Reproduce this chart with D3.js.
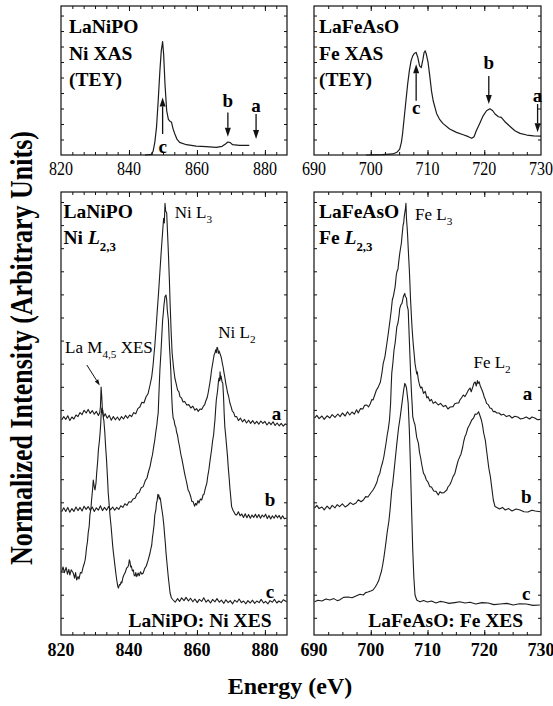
<!DOCTYPE html>
<html><head><meta charset="utf-8">
<script src="https://cdn.jsdelivr.net/npm/d3@7"></script>
<style>
body{margin:0;background:#fff}
svg{display:block}
text{font-family:"Liberation Serif","Times New Roman",Times,serif;fill:#000}
</style>
</head><body>
<svg id="chart" width="553" height="706"></svg>
<script>
// ---------------- DATA ----------------
// Top-left: LaNiPO Ni XAS (TEY)  [energy eV, intensity]
const niXAS = [[844.7,0],[846.6,0.4],[847.1,2.5],[847.6,8.5],[848.1,18.5],[848.6,36.4],[849.1,56.5],[849.5,69.9],[849.9,76.1],[850.2,67.6],[850.6,47.5],[851.1,29.7],[851.6,23.9],[852.1,22.5],[852.5,22.1],[853.0,17.4],[853.5,14.1],[854.1,10.7],[854.9,8.5],[856.9,6.9],[859.8,6.0],[862.7,5.6],[865.7,5.1],[867.4,5.8],[868.4,7.4],[869.1,8.7],[869.8,8.3],[870.5,6.9],[872.5,6.5],[875.4,6.5]];
// Top-right: LaFeAsO Fe XAS (TEY)
const feXAS = [[699.2,0],[702.1,0.2],[703.9,0.7],[704.6,1.8],[705.1,4.0],[705.4,8.5],[705.6,14.1],[705.9,25.2],[706.2,36.4],[706.5,47.5],[706.8,56.5],[707.1,63.2],[707.4,66.5],[707.7,68.3],[708.0,68.8],[708.3,65.4],[708.6,59.8],[708.9,58.7],[709.2,64.3],[709.4,68.8],[709.6,69.9],[709.8,67.6],[710.1,62.1],[710.4,53.1],[710.7,43.1],[711.0,36.4],[711.6,27.9],[712.1,24.1],[712.7,21.2],[713.9,17.4],[715.1,15.2],[716.3,13.6],[717.2,12.3],[717.8,11.2],[718.2,12.3],[718.6,16.3],[719.2,21.2],[719.8,26.3],[720.4,29.7],[721.0,31.0],[721.5,29.7],[721.9,27.5],[722.5,25.7],[723.0,25.2],[723.6,22.5],[724.6,19.0],[725.4,16.3],[726.3,14.5],[727.5,13.4],[728.7,12.9],[730.0,12.7]];

// Bottom-left: LaNiPO Ni XES, excitations a, b, c (offset stacked)
const niXES_a = [[820.2,53.75],[820.8,54.6],[821.4,53.9],[822.0,54.8],[822.6,53.6],[823.2,54.5],[823.8,54.0],[824.4,55.0],[825.0,54.6],[825.6,55.6],[826.2,55.1],[826.8,56.2],[827.4,55.5],[828.0,56.4],[828.6,55.4],[829.2,56.1],[829.8,55.2],[830.4,55.9],[831.0,54.9],[831.4,55.6],[831.6,57],[831.8,62],[832.0,59.5],[832.2,56],[832.5,54.5],[833.0,55.3],[833.6,54.2],[834.2,54.9],[834.8,53.7],[835.4,54.6],[836.0,53.8],[836.6,54.5],[837.2,53.7],[837.8,54.6],[838.4,54.0],[839.0,54.9],[839.6,54.2],[840.2,55.0],[840.8,54.6],[841.4,55.6],[842.0,55.3],[842.6,56.6],[843.2,57.0],[843.8,58.2],[844.4,58.0],[845.0,59.5],[845.6,60.3],[846.2,62.5],[846.7,64.6],[847.1,67.5],[847.4,70.5],[847.6,72.3],[848.0,77.0],[848.3,80.75],[848.7,85.5],[849.1,90.75],[849.5,96.0],[849.9,100.75],[850.2,104.2],[850.4,103.0],[850.6,107.9],[850.8,106.0],[851.1,105.5],[851.4,99.5],[851.6,95.5],[851.9,88.5],[852.1,83],[852.4,76.0],[852.7,70.5],[853.1,67.0],[853.5,64.25],[853.9,62.8],[854.3,61.25],[854.7,60.8],[855.0,59.6],[855.5,59.2],[855.9,58.25],[856.4,58.4],[857.0,57.5],[857.6,57.6],[858.2,56.75],[858.8,57.2],[859.4,56.2],[859.9,56.6],[860.4,55.9],[860.9,56.5],[861.4,56.4],[861.9,57.2],[862.3,57.6],[862.6,58.5],[863.0,59.3],[863.3,60.5],[863.6,62.0],[863.8,63],[864.1,64.8],[864.3,66.25],[864.6,67.7],[864.9,69.25],[865.1,70.2],[865.3,70.5],[865.5,71.3],[865.7,70.6],[865.9,71.9],[866.1,71.7],[866.3,70.4],[866.5,71.0],[866.8,70.3],[867.0,69.8],[867.2,69.25],[867.5,67.8],[867.7,67],[868.0,65.4],[868.2,64.5],[868.5,62.8],[868.7,62],[869.0,60.6],[869.3,59.75],[869.7,58],[870.0,57.2],[870.4,56],[870.8,55.6],[871.2,54.6],[871.7,54.6],[872.2,53.6],[872.8,54.2],[873.4,53.3],[874.0,53.9],[874.6,53.0],[875.2,53.7],[875.8,52.9],[876.4,53.6],[877.0,52.8],[877.6,53.4],[878.2,52.7],[878.8,53.5],[879.4,52.9],[880.0,53.4],[880.6,52.5],[881.2,53.2],[881.8,52.6],[882.4,53.3],[883.0,52.4],[883.6,53.0],[884.2,52.3],[884.8,52.9],[885.4,52.2],[886.0,52.8],[886.4,52.5]];
const niXES_b = [[820.2,30.8],[820.8,31.8],[821.4,30.9],[822.0,31.9],[822.6,30.7],[823.2,31.6],[823.8,30.9],[824.4,32.0],[825.0,31.1],[825.6,31.9],[826.2,31.0],[826.8,32.2],[827.4,31.4],[828.0,32.1],[828.6,31.2],[829.2,32.0],[829.8,30.9],[830.4,31.8],[831.0,31.2],[831.6,32.3],[832.2,31.1],[832.8,31.9],[833.4,31.2],[834.0,32.1],[834.6,31.3],[835.2,32.0],[835.8,31.2],[836.4,31.9],[837.0,31.4],[837.6,32.3],[838.2,31.9],[838.8,32.8],[839.4,32.4],[840.0,33.3],[840.6,33.2],[841.2,34.0],[841.8,34.2],[842.4,35.3],[843.0,35.6],[843.6,36.8],[844.2,37.1],[844.8,38.6],[845.3,39.25],[845.8,41.0],[846.2,42.1],[846.6,43.9],[846.9,45],[847.3,47.2],[847.6,48.75],[847.9,50.8],[848.2,52.5],[848.4,54.2],[848.6,55.5],[848.8,60],[849.1,66.25],[849.4,70.5],[849.6,73.75],[849.9,78.75],[850.1,80.4],[850.3,82.5],[850.6,84.6],[850.9,85],[851.1,83.75],[851.3,81.0],[851.6,78.75],[851.9,72.5],[852.1,69.5],[852.3,66.25],[852.6,59.25],[852.8,56.0],[853.0,54.25],[853.3,53.6],[853.5,52.5],[853.8,51.9],[854.0,50.75],[854.3,49.9],[854.5,48.75],[854.9,47.0],[855.3,45],[855.6,43.9],[856.0,42.1],[856.4,40.3],[856.8,38.75],[857.1,37.6],[857.4,36.25],[857.8,35.6],[858.2,34.5],[858.5,33.4],[858.9,33.3],[859.3,32.2],[859.6,32.9],[859.9,32.5],[860.3,33.6],[860.6,33],[861.0,34.0],[861.4,33.75],[861.8,35.0],[862.1,35.25],[862.5,36.8],[862.9,37.9],[863.2,39.8],[863.5,41.25],[863.9,43.9],[864.3,46.25],[864.6,48.5],[864.9,50],[865.1,52.0],[865.3,53.75],[865.5,56.4],[865.7,58.75],[865.9,60.0],[866.1,61.25],[866.3,63.2],[866.5,64.25],[866.7,63.5],[866.8,65.8],[867.0,64.0],[867.1,64.75],[867.4,63.2],[867.6,63],[867.8,60.0],[867.9,58],[868.0,55.6],[868.2,52.1],[868.5,49.5],[868.7,47.5],[869.0,44.6],[869.2,42.1],[869.5,39.0],[869.7,36.75],[870.0,34.0],[870.2,32.1],[870.6,31.2],[870.9,30.75],[871.3,30.1],[871.7,30],[872.2,30.8],[872.7,29.8],[873.2,30.25],[873.7,29.4],[874.2,30.3],[874.7,29.3],[875.2,30.1],[875.7,29.2],[876.2,30.0],[876.7,29.4],[877.2,30.2],[877.7,29.3],[878.2,30.1],[878.7,29.2],[879.2,30.0],[879.7,29.5],[880.2,30.2],[880.7,29.1],[881.2,29.9],[881.7,29.0],[882.2,29.8],[882.7,29.2],[883.2,30.0],[883.7,29.3],[884.2,29.9],[884.7,29.0],[885.2,29.8],[885.7,29.1],[886.4,29.2]];
const niXES_c = [[820.2,15.8],[820.6,17.0],[821.0,15.6],[821.5,16.9],[821.9,15.2],[822.3,16.4],[822.6,15.0],[823.0,16.3],[823.6,15.5],[824.0,14.2],[824.3,15.6],[824.6,13.75],[825.0,14.6],[825.3,14.0],[825.7,15.6],[826.1,15.5],[826.4,16.6],[826.6,17.25],[826.9,18.0],[827.1,18.75],[827.3,20.0],[827.5,21.75],[827.8,23.4],[828.0,25.5],[828.3,27.2],[828.5,30],[828.8,31.5],[829.0,33.75],[829.3,36.5],[829.5,38.75],[829.8,37.0],[830.0,36.25],[830.3,38.0],[830.5,40.5],[830.8,43.5],[831.0,46.25],[831.3,48.5],[831.5,50.5],[831.7,53.0],[831.8,55],[832.0,56.75],[832.2,55.5],[832.3,56.25],[832.5,54.0],[832.6,53.75],[832.9,50.5],[833.1,47.5],[833.4,43.75],[833.7,39.0],[833.9,35.5],[834.2,32.3],[834.4,30],[834.7,27.5],[834.9,25.5],[835.2,22.4],[835.4,20.75],[835.7,18.6],[835.9,17.1],[836.2,15.0],[836.4,13.75],[836.7,12.2],[836.9,11.75],[837.2,12.6],[837.4,12.5],[837.7,13.3],[837.9,13],[838.2,14.3],[838.5,15],[838.9,15.6],[839.3,16.75],[839.6,16.9],[839.9,17.5],[840.1,18.8],[840.3,18.3],[840.5,17.0],[840.7,17.25],[841.0,16.0],[841.3,16.25],[841.5,15.0],[841.8,14.75],[842.0,15.6],[842.3,14.6],[842.7,15.5],[843.0,14.8],[843.4,15.8],[843.8,15.2],[844.2,15.5],[844.6,16.6],[845.1,17.25],[845.6,18.6],[846.2,20.5],[846.5,21.8],[846.7,22.5],[846.9,24.3],[847.1,25.5],[847.4,27.6],[847.6,30],[847.9,31.2],[848.1,33],[848.3,33.6],[848.5,35.2],[848.6,34.6],[848.8,35.0],[848.9,34],[849.1,34.4],[849.3,33.75],[849.5,32.4],[849.8,30.75],[850.0,29.5],[850.3,27.1],[850.5,24.9],[850.7,23],[850.9,20.6],[851.1,18.75],[851.4,16.0],[851.6,14.25],[851.9,12.0],[852.1,10.5],[852.5,9.25],[853.0,8.75],[853.6,8.2],[854.3,9.1],[854.9,8.4],[855.5,9.3],[856.2,8.6],[856.8,9.4],[857.5,8.5],[858.1,9.2],[858.8,8.3],[859.4,9.0],[860.1,8.1],[860.7,8.9],[861.4,8.4],[862.0,9.3],[862.7,8.2],[863.3,8.8],[864.0,8.0],[864.6,8.9],[865.3,8.3],[865.9,9.1],[866.6,8.2],[867.2,8.7],[867.9,7.9],[868.5,8.8],[869.2,8.1],[869.8,8.6],[870.5,7.8],[871.1,8.7],[871.8,8.2],[872.4,9.0],[873.1,8.1],[873.7,8.5],[874.4,7.8],[875.0,8.6],[875.7,8.0],[876.3,8.7],[877.0,7.9],[877.6,8.5],[878.3,8.1],[878.9,8.9],[879.6,8.0],[880.2,8.4],[880.9,7.8],[881.5,8.6],[882.2,8.2],[882.8,8.9],[883.5,8.0],[884.1,8.5],[884.8,8.1],[885.4,8.8],[886.4,8.3]];

// Bottom-right: LaFeAsO Fe XES, excitations a, b, c
const feXES_a = [[690.1,54.2],[690.5,54.9],[690.9,54.1],[691.4,54.75],[691.8,53.9],[692.3,54.8],[692.8,54.25],[693.2,55.1],[693.7,54.4],[694.2,55.25],[694.6,54.6],[695.0,55.5],[695.5,54.75],[695.9,55.8],[696.3,55.0],[696.7,55.75],[697.1,55.2],[697.5,56.3],[697.8,55.5],[698.2,56.6],[698.6,56.5],[698.9,57.4],[699.3,57.5],[699.6,57.0],[699.9,57.75],[700.2,58.9],[700.4,58.75],[700.7,60.0],[701.0,61.25],[701.3,61.9],[701.7,63.25],[702.0,65.8],[702.2,67.9],[702.5,69.6],[702.8,72.5],[703.1,75.5],[703.4,78.75],[703.6,81.0],[703.8,83.75],[704.0,84.8],[704.3,87.1],[704.5,90.0],[704.6,90.75],[704.8,91.5],[704.9,92.9],[705.1,95.3],[705.2,96.25],[705.4,98.0],[705.5,99.6],[705.7,102.5],[705.8,103.0],[705.9,104.6],[706.1,106.5],[706.2,107.9],[706.3,104.0],[706.4,102.1],[706.5,99.8],[706.6,96.75],[706.7,94.0],[706.8,91.25],[706.9,88.0],[707.0,84.25],[707.2,78.75],[707.3,76.3],[707.5,72.5],[707.6,71.0],[707.8,67.9],[707.9,67.0],[708.1,65.25],[708.2,65.8],[708.4,63.75],[708.6,62.5],[708.8,61.75],[709.0,62.0],[709.3,60.4],[709.6,60.9],[709.9,59.25],[710.1,59.6],[710.4,58.5],[710.7,58.9],[711.0,57.9],[711.4,58.3],[711.9,57.5],[712.3,57.9],[712.8,57.1],[713.2,57.4],[713.6,56.5],[714.0,57.0],[714.5,57.1],[714.8,57.8],[715.2,58],[715.5,58.0],[715.7,58.75],[716.0,59.3],[716.3,60],[716.6,59.6],[716.9,60.4],[717.2,61.2],[717.5,61.75],[717.7,60.8],[718.0,62.1],[718.2,63.0],[718.4,63.25],[718.6,62.25],[718.8,63.6],[718.9,62.9],[719.1,63.3],[719.3,62.25],[719.6,61.25],[719.8,60.5],[720.0,59.5],[720.2,58.9],[720.4,57.9],[720.7,57.6],[721.0,56.75],[721.3,56.6],[721.6,55.8],[721.9,55.9],[722.2,55.5],[722.6,55.5],[723.0,55],[723.4,55.2],[723.9,54.6],[724.4,54.9],[724.9,54.25],[725.4,54.7],[725.9,54.5],[726.4,54.0],[726.9,54.2],[727.4,54.5],[728.0,54],[728.4,54.5],[728.9,54.25],[729.4,53.8],[729.9,53.9]];
const feXES_b = [[690.1,31.7],[690.5,32.4],[690.9,31.6],[691.4,32],[691.8,31.3],[692.3,32.2],[692.8,31.5],[693.2,32.4],[693.7,31.8],[694.1,32.6],[694.5,32.1],[695.0,32.8],[695.5,32.0],[696.0,32.5],[696.4,33.1],[696.9,32.6],[697.4,33],[697.8,33.8],[698.3,33.3],[698.7,33.75],[699.1,34.6],[699.5,34.5],[700.0,35.5],[700.4,36.25],[700.7,37.0],[701.1,38.25],[701.3,39.5],[701.6,40.4],[701.8,41.8],[702.1,43.25],[702.3,44.5],[702.5,46.25],[702.7,48.0],[702.9,50],[703.1,51.6],[703.3,53.75],[703.4,55.8],[703.5,58],[703.6,62.0],[703.7,65.4],[703.9,68.0],[704.1,71.25],[704.3,73.0],[704.6,77.1],[704.8,78.0],[705.0,80],[705.1,81.6],[705.3,82.5],[705.5,82.9],[705.7,84.25],[705.8,84.8],[706.0,85.4],[706.1,84.6],[706.3,84.25],[706.4,82.4],[706.6,81.25],[706.7,77.5],[706.8,73.75],[706.9,70.0],[707.0,66.25],[707.1,63.0],[707.2,60],[707.3,57.6],[707.4,54.6],[707.6,53.4],[707.8,52.5],[708.1,49.4],[708.4,47.9],[708.6,45.6],[708.8,44.25],[709.0,42.5],[709.3,40.4],[709.5,40.0],[709.8,38.75],[710.1,38.2],[710.4,37.1],[710.7,37.0],[711.1,36],[711.5,35.9],[711.9,35],[712.2,35.8],[712.5,35.5],[712.9,35.6],[713.4,36.25],[713.6,37.0],[713.9,37.5],[714.2,38.4],[714.5,39.6],[714.8,40.3],[715.1,42],[715.4,43.6],[715.7,44.6],[715.9,45.2],[716.2,47],[716.4,48.5],[716.6,49.6],[716.8,50.2],[717.1,51.75],[717.4,52.5],[717.8,53.75],[718.1,54.2],[718.4,55.25],[718.7,55.2],[719.0,55.8],[719.2,55],[719.5,53.75],[719.7,52.4],[719.9,50.5],[720.2,48.6],[720.4,46.25],[720.6,44.0],[720.8,41.75],[721.1,39.4],[721.3,37.1],[721.6,33.75],[721.9,32.1],[722.3,31.8],[722.7,31.5],[723.2,31.9],[723.7,31.25],[724.3,31.6],[724.9,31],[725.6,31.5],[726.3,31.25],[727.0,30.8],[727.7,30.75],[728.4,31.2],[729.0,31],[729.9,30.8]];
const feXES_c = [[690.1,8.3],[690.7,8.7],[691.4,8.5],[692.1,9.0],[692.8,8.75],[693.5,9.1],[694.1,8.6],[694.5,8.75],[695.2,9.4],[696.0,9.5],[696.7,9.3],[697.4,9.75],[698.1,10.2],[698.7,10],[699.1,10.6],[699.5,10.75],[700.0,11.0],[700.4,11.25],[700.8,12.0],[701.1,12.75],[701.4,13.6],[701.6,14.6],[701.9,16.0],[702.1,17.5],[702.3,19.2],[702.5,21.25],[702.7,23.4],[702.9,25.75],[703.2,28.5],[703.4,31.25],[703.7,36.25],[703.85,37.6],[704.0,39.6],[704.3,43.75],[704.6,47.9],[704.9,51.75],[705.2,54.6],[705.5,57.9],[705.8,61.25],[706.0,62.9],[706.15,62.5],[706.3,61.75],[706.6,57.9],[706.8,51.25],[707.0,42.1],[707.2,31.25],[707.4,21.25],[707.6,14.25],[707.8,10],[708.1,8.75],[708.4,8.5],[708.7,8.3],[709.3,8.6],[710.0,8.25],[710.7,8.5],[711.5,8],[712.2,8.4],[712.9,8.25],[713.8,7.9],[714.8,8.1],[715.7,8.3],[716.6,8],[717.5,8.2],[718.5,7.75],[719.6,8.1],[720.7,8],[721.7,7.6],[722.8,7.75],[724.0,7.9],[725.1,7.5],[726.2,7.8],[727.4,7.75],[728.6,7.4],[729.8,7.5]];

// tick labels
const niTickLabels = [820, 840, 860, 880];
const feTickLabels = [690, 700, 710, 720, 730];

// excitation arrows on XAS: [label, energy, labelI, fromI, toI]
const niArrows = [["c",849.9,5.5,14.1,38.6],["b",869.1,36.4,28.6,12.3],["a",877.4,33,27.5,10.7]];
const feArrows = [["c",708.0,31.9,36.4,60.9],["b",720.8,62.1,53.1,34.2],["a",729.4,40.2,34.2,15.2]];

// curve labels on XES: [label, energy, intensity]
const niCurveLabels = [["a",883.4,55.5],["b",881.5,34],["c",881.5,11]];
const feCurveLabels = [["a",727.6,60.3],["b",727.4,34.6],["c",727.4,10.5]];

// ---------------- DRAW ----------------
const svg = d3.select('#chart');
const ink = '#111';

function makePanel(xDom, xRng, yDom, yRng){
  const x = d3.scaleLinear().domain(xDom).range(xRng);
  const y = d3.scaleLinear().domain(yDom).range(yRng);
  return {x, y, g: svg.append('g')};
}
function drawFrameTicks(p, minorStep, majorVals, yTickVals){
  const g = p.g, x = p.x, y = p.y;
  const [x0,x1] = x.range(), [y0,y1] = y.range();
  const [d0,d1] = x.domain();
  const minor = d3.range(d0, d1 + 1e-6, minorStep).filter(v => v > d0 + 1e-6 && v < d1 - 1e-6);
  const rm = a => a.select('.domain').remove();
  g.append('g').attr('transform',`translate(0,${y0})`).call(d3.axisBottom(x).tickValues(minor).tickSize(-3).tickFormat('')).call(rm);
  g.append('g').attr('transform',`translate(0,${y1})`).call(d3.axisTop(x).tickValues(minor).tickSize(-3).tickFormat('')).call(rm);
  const maj = majorVals.filter(v => v > d0 + 1e-6 && v < d1 - 1e-6);
  g.append('g').attr('transform',`translate(0,${y0})`).call(d3.axisBottom(x).tickValues(maj).tickSize(-5).tickFormat('')).call(rm);
  g.append('g').attr('transform',`translate(0,${y1})`).call(d3.axisTop(x).tickValues(maj).tickSize(-5).tickFormat('')).call(rm);
  g.append('g').attr('transform',`translate(${x0},0)`).call(d3.axisLeft(y).tickValues(yTickVals).tickSize(-3).tickFormat('')).call(rm);
  g.append('g').attr('transform',`translate(${x1},0)`).call(d3.axisRight(y).tickValues(yTickVals).tickSize(-3).tickFormat('')).call(rm);
  g.selectAll('.tick line').attr('stroke', ink).attr('stroke-width', 1);
  g.append('rect').attr('x',x0).attr('y',y1).attr('width',x1-x0).attr('height',y0-y1)
    .attr('fill','none').attr('stroke',ink).attr('stroke-width',1.2);
}
function drawCurve(p, data, sw){
  p.g.append('path').datum(data)
    .attr('d', d3.line().x(d=>p.x(d[0])).y(d=>p.y(d[1])))
    .attr('fill','none').attr('stroke','#1c1c1c').attr('stroke-width',sw).attr('stroke-linejoin','round');
}
function arrowPx(g, x1, y1, x2, y2, len, wid, sw){
  const dx=x2-x1, dy=y2-y1, L=Math.hypot(dx,dy), ux=dx/L, uy=dy/L;
  const bx=x2-ux*len, by=y2-uy*len;
  g.append('line').attr('x1',x1).attr('y1',y1).attr('x2',bx).attr('y2',by).attr('stroke',ink).attr('stroke-width',sw);
  g.append('path').attr('d',`M${x2},${y2}L${bx-uy*wid/2},${by+ux*wid/2}L${bx+uy*wid/2},${by-ux*wid/2}Z`).attr('fill',ink);
}
function tickLabels(p, vals, yBase, size, weight, sy){
  p.g.selectAll(null).data(vals).enter().append('text')
    .attr('transform', d => `translate(${p.x(d)},${yBase}) scale(1,${sy})`)
    .attr('text-anchor','middle').attr('font-size',size).attr('font-weight',weight)
    .text(d => d);
}
function title(p, lines, xOff, baselines, size){
  const x0 = p.x.range()[0];
  lines.forEach((ln, i) => {
    const t = p.g.append('text').attr('x', x0 + xOff).attr('y', baselines[i])
      .attr('font-size', size).attr('font-weight','bold');
    ln.forEach(seg => {
      const ts = t.append('tspan').text(seg.t);
      if (seg.i) ts.attr('font-style','italic');
      if (seg.sub) ts.attr('font-size', size*0.66).attr('dy', seg.sub);
    });
  });
}

// panel geometry
const Lx = [61, 287], Rx = [314, 541];
const topY = [155, 6], botY = [635, 192];
const niDom = [820, 886.5], feDom = [690, 730];
const topYTicks = d3.range(10.4, 100, 10.4);
const botYTicks = d3.range(4.3, 110.7, 5.775);

const tl = makePanel(niDom, Lx, [0,100], topY);
const tr = makePanel(feDom, Rx, [0,100], topY);
const bl = makePanel(niDom, Lx, [0,110.75], botY);
const br = makePanel(feDom, Rx, [0,110.75], botY);

drawCurve(tl, niXAS, 1.2);
drawCurve(tr, feXAS, 1.2);
[niXES_a, niXES_b, niXES_c].forEach(d => drawCurve(bl, d, 1.1));
[feXES_a, feXES_b, feXES_c].forEach(d => drawCurve(br, d, 1.1));

drawFrameTicks(tl, 20/6, [820,840,860,880], topYTicks);
drawFrameTicks(tr, 2.5, [690,700,710,720,730], topYTicks);
drawFrameTicks(bl, 20/6, [820,840,860,880], botYTicks);
drawFrameTicks(br, 2.5, [690,700,710,720,730], botYTicks);

tickLabels(tl, niTickLabels, 175, 16, 'normal', 1.2);
tickLabels(tr, feTickLabels, 175, 16, 'normal', 1.2);
tickLabels(bl, niTickLabels, 656, 18, 'bold', 1.1);
tickLabels(br, feTickLabels, 656, 18, 'bold', 1.1);

// XAS titles
title(tl, [[{t:'LaNiPO'}],[{t:'Ni XAS'}],[{t:'(TEY)'}]], 8, [33, 60, 86], 19.5);
title(tr, [[{t:'LaFeAsO'}],[{t:'Fe XAS'}],[{t:'(TEY)'}]], 5, [33, 60, 86], 19.5);
// XES titles
title(bl, [[{t:'LaNiPO'}],[{t:'Ni '},{t:'L',i:true},{t:'2,3',sub:7}]], 2.5, [218, 244], 19.5);
title(br, [[{t:'LaFeAsO'}],[{t:'Fe '},{t:'L',i:true},{t:'2,3',sub:7}]], 5, [218, 244], 19.5);

// XAS arrows & labels
function xasArrows(p, arr){
  arr.forEach(([lab,E,li,fi,ti]) => {
    arrowPx(p.g, p.x(E), p.y(fi), p.x(E), p.y(ti), 9, 6, 1.3);
    p.g.append('text').attr('x', p.x(E)).attr('y', p.y(li)).attr('dy','0.35em')
      .attr('text-anchor','middle').attr('font-size',19).attr('font-weight','bold').text(lab);
  });
}
xasArrows(tl, niArrows);
xasArrows(tr, feArrows);

// XES curve labels
function curveLabels(p, arr){
  arr.forEach(([lab,E,I]) => {
    p.g.append('text').attr('x', p.x(E)).attr('y', p.y(I)).attr('dy','0.35em')
      .attr('text-anchor','middle').attr('font-size',19).attr('font-weight','bold').text(lab);
  });
}
curveLabels(bl, niCurveLabels);
curveLabels(br, feCurveLabels);

// peak labels (regular)
function peakLabel(p, E, I, main, sub, size){
  const t = p.g.append('text').attr('x', p.x(E)).attr('y', p.y(I)).attr('font-size', size);
  t.append('tspan').text(main);
  t.append('tspan').attr('font-size', size*0.66).attr('dy', 5).text(sub);
  return t;
}
peakLabel(bl, 853.5, 104.25, 'Ni L', '3', 17);
peakLabel(bl, 866.3, 74.25, 'Ni L', '2', 17);
peakLabel(br, 707.8, 103.75, 'Fe L', '3', 17);
peakLabel(br, 718.1, 66.7, 'Fe L', '2', 17);
{
  const t = peakLabel(bl, 821.2, 70.5, 'La M', '4,5', 17);
  t.append('tspan').attr('dy', -5).text(' XES');
  arrowPx(bl.g, bl.x(827.6), bl.y(67.5), bl.x(831.4), bl.y(62.4), 6, 4, 1);
}

// sample captions
bl.g.append('text').attr('x', bl.x(860.9)).attr('y', 627).attr('text-anchor','middle')
  .attr('font-size',19.5).attr('font-weight','bold').text('LaNiPO: Ni XES');
br.g.append('text').attr('x', br.x(713.2)).attr('y', 627).attr('text-anchor','middle')
  .attr('font-size',19.5).attr('font-weight','bold').text('LaFeAsO: Fe XES');

// axis titles
svg.append('text').attr('x', 290).attr('y', 694).attr('text-anchor','middle')
  .attr('font-size',24).attr('font-weight','bold').text('Energy (eV)');
svg.append('text').attr('transform','translate(32,565) rotate(-90) scale(1,1.22)')
  .attr('text-anchor','start').attr('font-size',26).attr('font-weight','bold')
  .text('Normalized Intensity (Arbitrary Units)');
</script>
</body></html>
